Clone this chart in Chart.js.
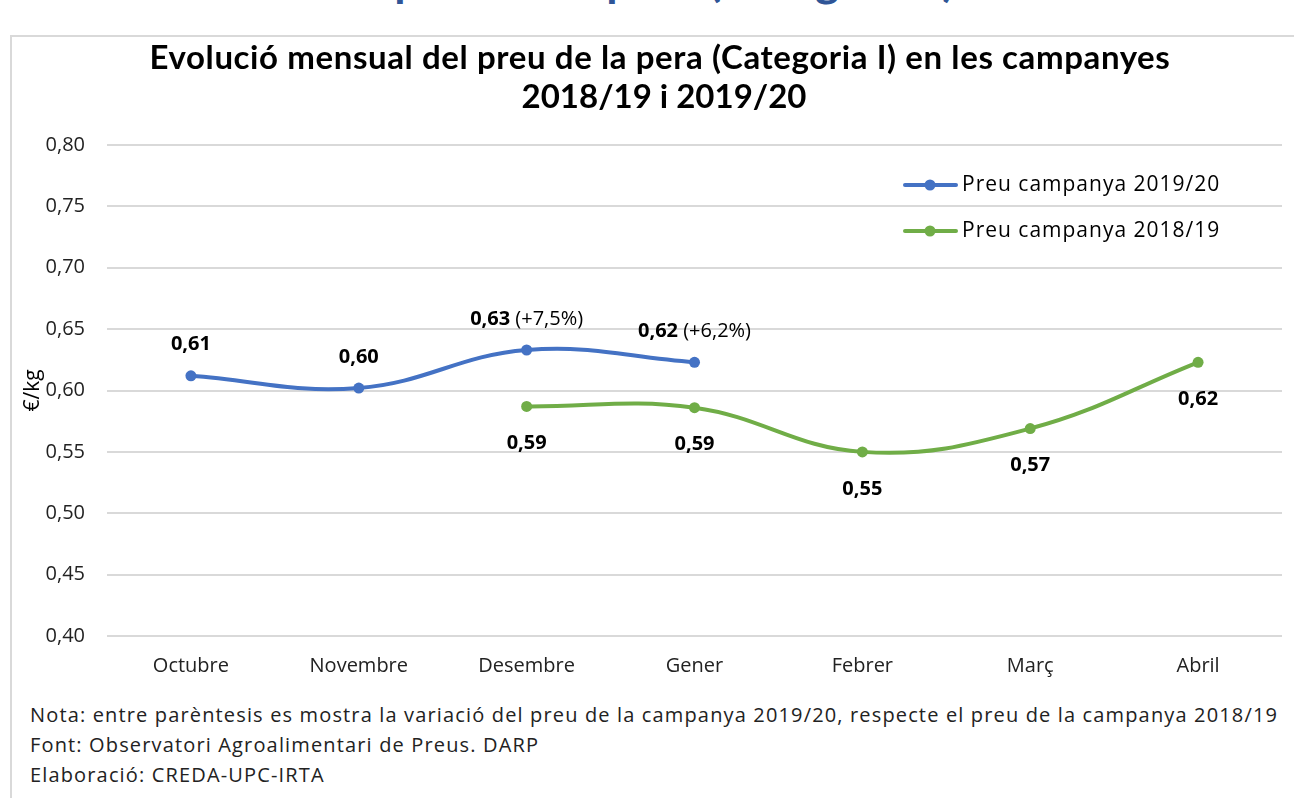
<!DOCTYPE html>
<html>
<head>
<meta charset="utf-8">
<script src="https://cdn.jsdelivr.net/npm/chart.js@4"></script>
<style>
  html, body { margin: 0; padding: 0; background: #fff; }
  body { width: 1294px; height: 798px; position: relative; overflow: hidden; }
  #topText { position: absolute; right: 339px; top: -49px; line-height: 46px;
    font: bold 46px "Lato", sans-serif; color: #2f5597; white-space: nowrap; }
  #frame { position: absolute; left: 10px; top: 35px; width: 1300px; height: 800px;
    border-left: 2px solid #d9d9d9; border-top: 2px solid #d9d9d9; background: #fff; }
  #wrap { position: absolute; left: 0; top: 0; width: 1294px; height: 700px; }
  .note { position: absolute; left: 30px; font: 20px "Open Sans", sans-serif; letter-spacing: 1.15px; color: #222; white-space: nowrap; }
</style>
</head>
<body>
<div id="topText">Evolució del preu de la pera (Categoria I)</div>
<div id="frame"></div>
<div id="wrap"><canvas id="c" width="1294" height="700"></canvas></div>
<div class="note" style="top:701px">Nota: entre parèntesis es mostra la variació del preu de la campanya 2019/20, respecte el preu de la campanya 2018/19</div>
<div class="note" style="top:731px">Font: Observatori Agroalimentari de Preus. DARP</div>
<div class="note" style="top:761px">Elaboració: CREDA-UPC-IRTA</div>
<script>
const months = ['Octubre', 'Novembre', 'Desembre', 'Gener', 'Febrer', 'Març', 'Abril'];
const preu1920 = [0.612, 0.602, 0.633, 0.623, null, null, null];
const preu1819 = [null, null, 0.587, 0.586, 0.550, 0.569, 0.623];
const labels1920 = ['0,61', '0,60', '0,63', '0,62', null, null, null];
const variacio1920 = [null, null, '(+7,5%)', '(+6,2%)', null, null, null];
const labels1819 = [null, null, '0,59', '0,59', '0,55', '0,57', '0,62'];
const seriesNames = ['Preu campanya 2019/20', 'Preu campanya 2018/19'];
const titleLines = ['Evolució mensual del preu de la pera (Categoria I) en les campanyes', '2018/19 i 2019/20'];
const yTitle = '€/kg';

const BLUE = '#4472c4';
const GREEN = '#70ad47';

const titlePlugin = {
  id: 'customTitle',
  afterDraw(chart) {
    const ctx = chart.ctx;
    ctx.save();
    ctx.fillStyle = '#000';
    ctx.textAlign = 'center';
    ctx.textBaseline = 'middle';
    ctx.font = 'bold 33px "Lato", sans-serif';
    ctx.letterSpacing = '0.6px';
    ctx.fillText(titleLines[0], 660, 58);
    ctx.letterSpacing = '0px';
    ctx.fillText(titleLines[1], 664, 97);
    ctx.restore();
  }
};

const labelPlugin = {
  id: 'valueLabels',
  afterDatasetsDraw(chart) {
    const ctx = chart.ctx;
    ctx.save();
    ctx.textBaseline = 'middle';
    const boldFont = 'bold 20px "Open Sans", sans-serif';
    const normFont = '20px "Open Sans", sans-serif';
    const m0 = chart.getDatasetMeta(0);
    m0.data.forEach((pt, i) => {
      if (labels1920[i] == null) return;
      const main = labels1920[i];
      const extra = variacio1920[i] ? ' ' + variacio1920[i] : '';
      ctx.font = boldFont; const w1 = ctx.measureText(main).width;
      ctx.font = normFont; const w2 = extra ? ctx.measureText(extra).width : 0;
      const x = pt.x - (w1 + w2) / 2;
      const y = pt.y - 31;
      ctx.fillStyle = '#000';
      ctx.textAlign = 'left';
      ctx.font = boldFont; ctx.fillText(main, x, y);
      if (extra) { ctx.font = normFont; ctx.fillText(extra, x + w1, y); }
    });
    const m1 = chart.getDatasetMeta(1);
    m1.data.forEach((pt, i) => {
      if (labels1819[i] == null) return;
      ctx.font = boldFont; ctx.textAlign = 'center'; ctx.fillStyle = '#000';
      ctx.fillText(labels1819[i], pt.x, pt.y + 37);
    });
    ctx.restore();
  }
};

const legendPlugin = {
  id: 'customLegend',
  afterDraw(chart) {
    const ctx = chart.ctx;
    ctx.save();
    const items = [{t: seriesNames[0], c: BLUE, y: 185}, {t: seriesNames[1], c: GREEN, y: 231}];
    items.forEach(it => {
      ctx.strokeStyle = it.c; ctx.lineWidth = 4; ctx.lineCap = 'round';
      ctx.beginPath(); ctx.moveTo(905, it.y); ctx.lineTo(956, it.y); ctx.stroke();
      ctx.fillStyle = it.c; ctx.beginPath(); ctx.arc(930, it.y, 5.5, 0, Math.PI * 2); ctx.fill();
      ctx.fillStyle = '#000'; ctx.font = '21px "Open Sans", sans-serif';
      ctx.letterSpacing = '1px';
      ctx.textAlign = 'left'; ctx.textBaseline = 'middle';
      ctx.fillText(it.t, 962, it.y);
    });
    ctx.restore();
  }
};

new Chart(document.getElementById('c'), {
  type: 'line',
  data: {
    labels: months,
    datasets: [
      { label: seriesNames[0], data: preu1920, borderColor: BLUE, backgroundColor: BLUE,
        borderWidth: 4, pointRadius: 5.5, pointBackgroundColor: BLUE, pointBorderWidth: 0,
        tension: 0.4, spanGaps: false },
      { label: seriesNames[1], data: preu1819, borderColor: GREEN, backgroundColor: GREEN,
        borderWidth: 4, pointRadius: 5.5, pointBackgroundColor: GREEN, pointBorderWidth: 0,
        tension: 0.4, spanGaps: false }
    ]
  },
  options: {
    responsive: false,
    animation: false,
    layout: { padding: { left: 0, right: 12, top: 145, bottom: 0 } },
    plugins: {
      legend: { display: false },
      tooltip: { enabled: false },
      title: { display: false }
    },
    scales: {
      x: {
        offset: true,
        grid: { display: false, drawTicks: false },
        border: { display: false },
        ticks: { color: '#222', font: { family: 'Open Sans', size: 20 }, padding: 18, maxRotation: 0 },
        afterFit(s) { s.height = 64; }
      },
      y: {
        min: 0.4, max: 0.8,
        grid: { color: '#d9d9d9', lineWidth: 2, drawTicks: false },
        border: { display: false },
        ticks: { stepSize: 0.05, color: '#222', font: { family: 'Open Sans', size: 20 }, padding: 22,
          callback: v => v.toFixed(2).replace('.', ',') },
        title: { display: true, text: yTitle, color: '#000', font: { family: 'Open Sans', size: 21 }, padding: { top: 20, bottom: 0 } },
        afterFit(s) { s.width = 107; }
      }
    }
  },
  plugins: [labelPlugin, legendPlugin, titlePlugin]
});
</script>
</body>
</html>
